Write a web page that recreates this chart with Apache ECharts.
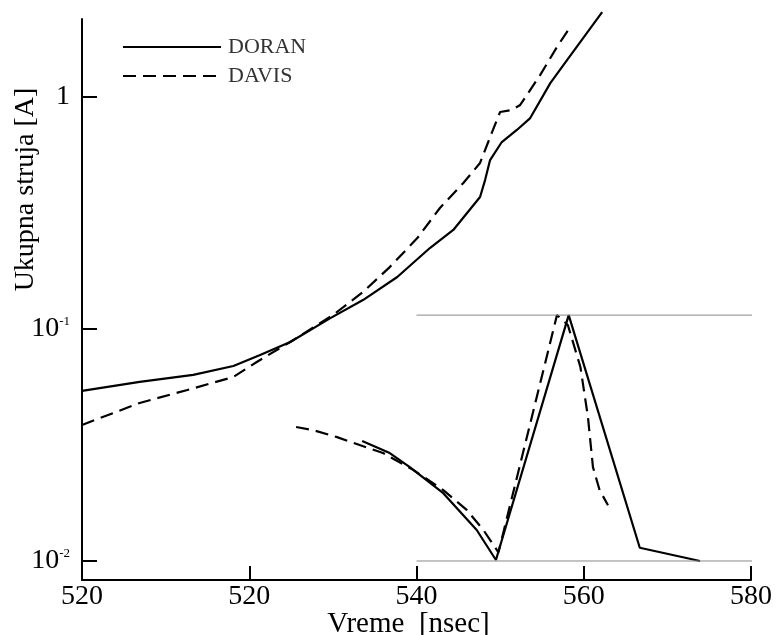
<!DOCTYPE html>
<html>
<head>
<meta charset="utf-8">
<script src="https://cdn.jsdelivr.net/npm/echarts@6/dist/echarts.min.js"></script>
<style>
html,body{margin:0;padding:0;background:#fff;}
#chart{width:776px;height:635px;}
</style>
</head>
<body>
<div id="chart"></div>
<script>
// ---- data ----
var xTickLabels = ['520', '520', '540', '560', '580'];
var yTickValues = [0.01, 0.1, 1];

var doranX = [500, 506.9, 513.3, 518.1, 521.3, 524.9, 529.7, 533.6, 537.7, 541.6, 544.4, 547.6, 548.2, 548.8, 550.2, 552.0, 553.6, 556.0, 558.0, 562.2];
var doranY = [0.0541, 0.0592, 0.0634, 0.0693, 0.0772, 0.0879, 0.1114, 0.1333, 0.1675, 0.2234, 0.2673, 0.3707, 0.4385, 0.5347, 0.6397, 0.7210, 0.8115, 1.148, 1.443, 2.32];

var davisX = [500, 506.9, 512.6, 518.1, 520.9, 524.9, 530.0, 533.6, 536.8, 540.1, 542.8, 545.6, 547.6, 549.0, 550.0, 551.4, 552.4, 554.8, 556.8, 558.4];
var davisY = [0.0386, 0.0480, 0.0546, 0.0621, 0.0721, 0.0879, 0.1148, 0.1443, 0.1849, 0.2466, 0.3324, 0.4259, 0.5198, 0.7000, 0.8616, 0.8790, 0.9242, 1.245, 1.644, 2.006];

var doranLowX = [533.5, 536.8, 539.2, 543.2, 547.2, 549.5, 558.2, 566.7, 573.9];
var doranLowY = [0.0329, 0.0292, 0.0254, 0.0196, 0.0136, 0.0101, 0.1148, 0.0114, 0.0100];

var davisLowX = [525.6, 527.6, 530.5, 533.2, 536.0, 539.6, 543.2, 546.0, 548.0, 549.8, 556.8, 558.1, 559.6, 560.5, 561.1, 561.9, 562.9];
var davisLowY = [0.0378, 0.0367, 0.0342, 0.0316, 0.0292, 0.0247, 0.0202, 0.0166, 0.0136, 0.0109, 0.1148, 0.104, 0.0686, 0.0418, 0.0254, 0.0202, 0.0174];

var bandX = [540, 580.6];
var bandTop = [0.1148, 0.1148];
var bandBottom = [0.01, 0.01];

function pairs(xs, ys) { return xs.map(function (x, i) { return [x, ys[i]]; }); }

var FONT = '"Liberation Serif", "DejaVu Serif", serif';
var chart = echarts.init(document.getElementById('chart'), null, {renderer: 'canvas'});

var supMap = {'0.01': '-2', '0.1': '-1'};

chart.setOption({
  animation: false,
  backgroundColor: '#fff',
  grid: {left: 82, right: 25, top: 19, bottom: 55, containLabel: false, outerBoundsMode: 'none'},
  legend: {
    data: ['DORAN', 'DAVIS'],
    orient: 'vertical',
    left: 117, top: 31,
    itemWidth: 98, itemHeight: 14, itemGap: 7,
    itemStyle: {opacity: 0},
    textStyle: {fontFamily: FONT, fontSize: 22, color: '#333', padding: [0, 0, 0, 2]}
  },
  xAxis: {
    type: 'value', min: 500, max: 580, interval: 20,
    name: 'Vreme  [nsec]', nameLocation: 'middle', nameGap: 30, nameMoveOverlap: false,
    nameTextStyle: {fontFamily: FONT, fontSize: 29, color: '#000', padding: [0, 16, 0, 0]},
    axisLine: {show: true, onZero: false, lineStyle: {color: '#000', width: 2}},
    axisTick: {show: true, inside: true, length: 14, lineStyle: {color: '#000', width: 2}},
    axisLabel: {
      fontFamily: FONT, fontSize: 28, color: '#000', margin: 3,
      formatter: function (v) { return xTickLabels[Math.round((v - 500) / 20)]; }
    },
    splitLine: {show: false}
  },
  yAxis: {
    type: 'log', logBase: 10, min: 0.008281, max: 2.169,
    name: 'Ukupna struja [A]', nameLocation: 'middle', nameGap: 42, nameRotate: 90, nameMoveOverlap: false,
    nameTextStyle: {fontFamily: FONT, fontSize: 28, color: '#000', padding: [0, 0, 0, 220]},
    axisLine: {show: true, lineStyle: {color: '#000', width: 2}},
    axisTick: {show: true, inside: true, length: 15, customValues: yTickValues, lineStyle: {color: '#000', width: 2}},
    axisLabel: {
      customValues: yTickValues, margin: 12,
      formatter: function (v) {
        var key = String(+v.toPrecision(3));
        if (supMap[key]) return '{b|10}{s|' + supMap[key] + '}';
        return '{b|1}';
      },
      rich: {
        b: {fontFamily: FONT, fontSize: 28, color: '#000'},
        s: {fontFamily: FONT, fontSize: 13, color: '#000', padding: [0, 0, 14, 0]}
      }
    },
    splitLine: {show: false}
  },
  series: [
    {name: 'DORAN', type: 'line', data: pairs(doranX, doranY), showSymbol: false, symbol: 'none', clip: false,
     lineStyle: {color: '#000', width: 2.2, type: 'solid'}, itemStyle: {color: '#000'}},
    {name: 'DAVIS', type: 'line', data: pairs(davisX, davisY), showSymbol: false, symbol: 'none', clip: false,
     lineStyle: {color: '#000', width: 2.2, type: [13, 7]}, itemStyle: {color: '#000'}},
    {name: 'DORAN', type: 'line', data: pairs(doranLowX, doranLowY), showSymbol: false, symbol: 'none', clip: false,
     lineStyle: {color: '#000', width: 2.2, type: 'solid'}, itemStyle: {color: '#000'}},
    {name: 'DAVIS', type: 'line', data: pairs(davisLowX, davisLowY), showSymbol: false, symbol: 'none', clip: false,
     lineStyle: {color: '#000', width: 2.2, type: [13, 7]}, itemStyle: {color: '#000'}},
    {name: 'bandTop', type: 'line', data: pairs(bandX, bandTop), showSymbol: false, symbol: 'none', clip: false, silent: true,
     lineStyle: {color: '#888', width: 1}},
    {name: 'bandBottom', type: 'line', data: pairs(bandX, bandBottom), showSymbol: false, symbol: 'none', clip: false, silent: true,
     lineStyle: {color: '#888', width: 1}}
  ]
});
</script>
</body>
</html>
